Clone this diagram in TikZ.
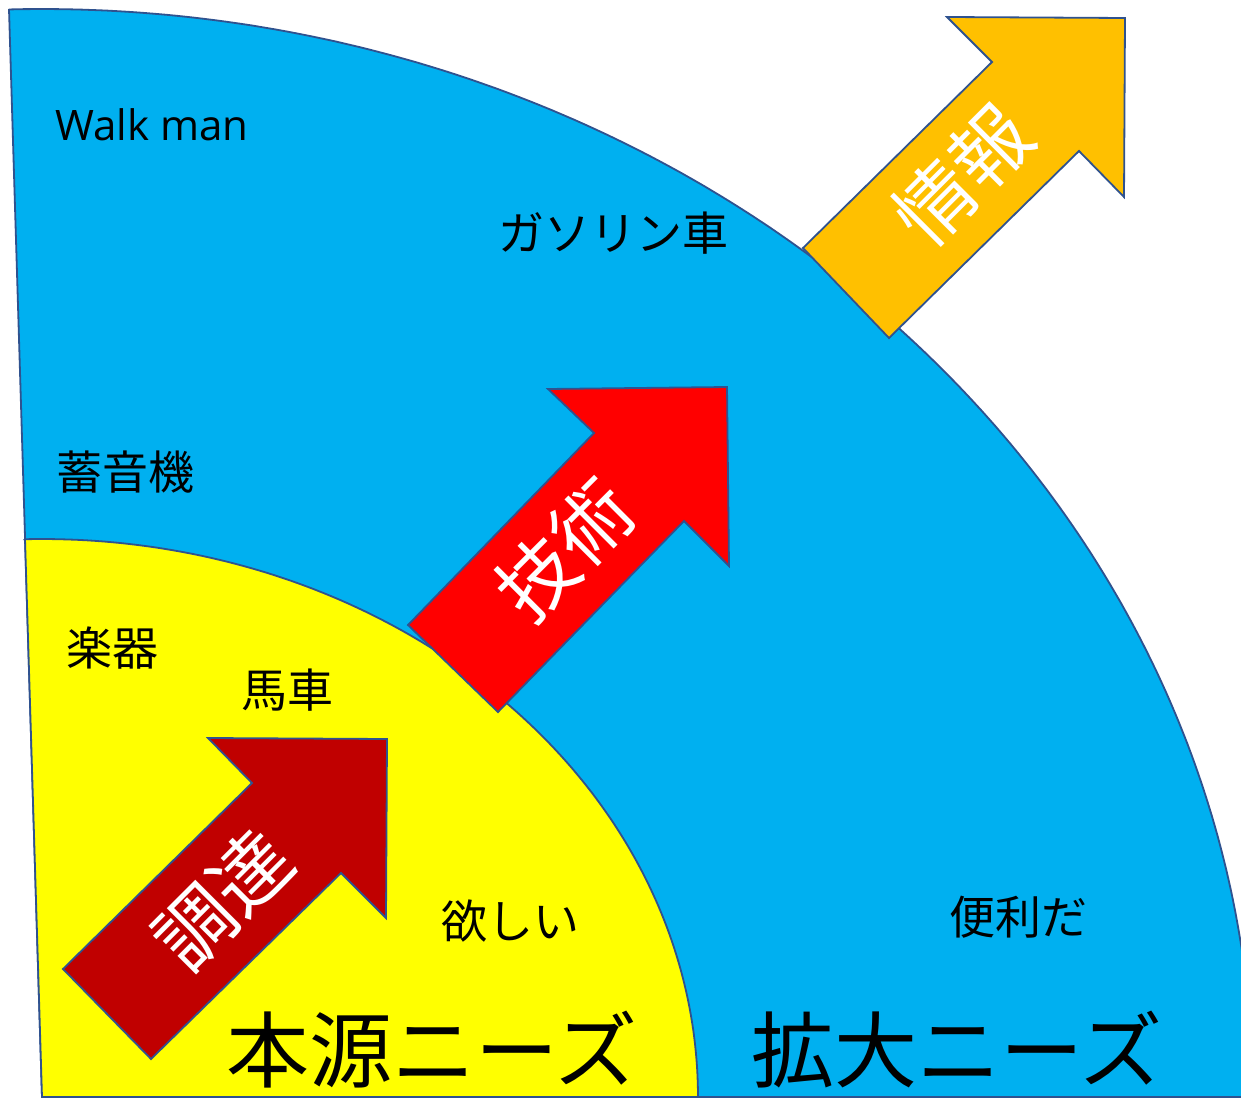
\documentclass[tikz,border=0pt]{standalone}
\usepackage{fontspec}
\newfontfamily\jpfont{Noto Sans CJK JP}
\newfontfamily\latfont{Open Sans}
\definecolor{edgeblue}{RGB}{47,82,143}
\definecolor{skyblue}{RGB}{0,176,240}
\definecolor{needyellow}{RGB}{255,255,0}
\definecolor{darkred}{RGB}{192,0,0}
\definecolor{brightred}{RGB}{255,0,0}
\definecolor{goldorange}{RGB}{255,192,0}
\tikzset{
  region/.style={draw=edgeblue, line width=1.8pt, line join=miter},
  blockarrow/.style={draw=edgeblue, line width=1.8pt, line join=miter},
  smalltext/.style={font=\jpfont\fontsize{46}{50}\selectfont, inner sep=0pt, text=black},
  bigtext/.style={font=\jpfont\fontsize{83}{90}\selectfont, inner sep=0pt, text=black},
  arrowtext/.style={font=\jpfont\fontsize{78}{84}\selectfont, inner sep=0pt, text=white, rotate=45},
}
\begin{document}
\begin{tikzpicture}[x=1pt,y=-1pt]
\useasboundingbox (0,0) rectangle (1241,1099);
\fill[white] (0,0) rectangle (1241,1099);
\begin{scope}
  \clip (0,0) rectangle (1241,1099);
  % outer (blue) region
  \path[region, fill=skyblue] (42,1097) -- (9,9)
    -- plot[domain=91.56:0, samples=160] ({42+1211*cos(\x)},{1097-1088*sin(\x)})
    -- cycle;
  % inner (yellow) region
  \path[region, fill=needyellow] (42,1097) -- (25,539)
    -- plot[domain=91.5:0, samples=120] ({42+656*cos(\x)},{1097-558*sin(\x)})
    -- cycle;
\end{scope}
% arrows
\path[blockarrow, fill=darkred] (63,969) -- (252,783) -- (208,738) -- (387,739) -- (386,918) -- (341,873) -- (151,1059) -- cycle;
\path[blockarrow, fill=brightred] (408,625) -- (594,433) -- (548,389) -- (727,387) -- (729,566) -- (684,521) -- (498,712) -- cycle;
\path[blockarrow, fill=goldorange] (803,248) -- (992,62) -- (947,17) -- (1125,18) -- (1124,197) -- (1079,151) -- (889,338) -- cycle;
% arrow labels
\node[arrowtext] (tyoutatsu) at (223,900) {調達};
\node[arrowtext] (gijutsu) at (565,550) {技術};
\node[arrowtext] (jouhou) at (963,175) {情報};
% labels
\node[font=\latfont\fontsize{42}{46}\selectfont, inner sep=0pt, anchor=base west] (walkman) at (55,141) {Walk man};
\node[smalltext] (gasoline) at (613,233) {ガソリン車};
\node[smalltext] (chikuonki) at (125,472) {蓄音機};
\node[smalltext] (gakki) at (112,648) {楽器};
\node[smalltext] (basha) at (287,690) {馬車};
\node[smalltext] (hoshii) at (510,921) {欲しい};
\node[smalltext] (benrida) at (1018,917) {便利だ};
\node[bigtext] (hongen) at (432,1050) {本源ニーズ};
\node[bigtext] (kakudai) at (957,1050) {拡大ニーズ};
\end{tikzpicture}
\end{document}
